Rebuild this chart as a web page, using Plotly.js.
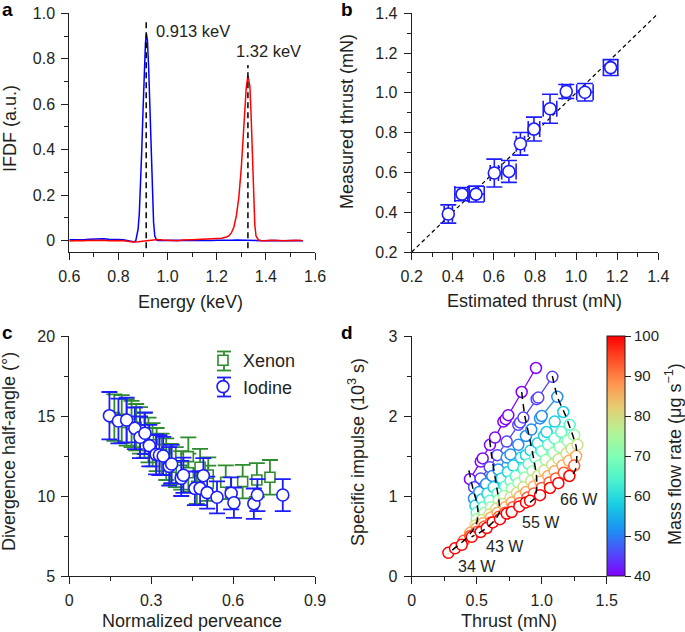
<!DOCTYPE html>
<html>
<head>
<meta charset="utf-8">
<script src="https://cdn.plot.ly/plotly-3.0.1.min.js"></script>
<style>html,body{margin:0;padding:0;background:#fff;}#chart{width:685px;height:632px;}</style>
</head>
<body>
<div id="chart"></div>
<script>
// ---------- Panel a: IFDF spectra ----------
const blueEnergy = [0.60,0.62,0.64,0.66,0.68,0.70,0.72,0.74,0.76,0.78,0.80,0.82,0.84,0.86,
  0.87,0.875,0.88,0.885,0.89,0.895,0.90,0.905,0.91,0.914,0.918,0.923,0.928,0.933,0.938,0.943,0.948,0.955,
  0.96,0.98,1.00,1.02,1.04,1.06,1.08,1.10,1.12,1.14,1.16,1.18,1.20,1.22,1.24,1.26,1.28,1.30,1.32,1.34,1.36,1.38,1.40,1.42,1.44,1.46,1.48,1.50,1.52,1.54,1.55];
const blueIFDF = [0.004,0.003,0.005,0.004,0.006,0.007,0.005,0.008,0.006,0.007,0.005,0.004,0.001,-0.005,
  -0.003,0.02,0.05,0.12,0.24,0.40,0.57,0.74,0.87,0.91,0.88,0.76,0.58,0.40,0.22,0.08,0.02,0.003,
  0.001,0.002,0.000,0.001,0.002,0.001,0.000,0.001,0.002,0.001,0.000,0.001,0.002,0.001,0.002,0.002,0.003,0.003,0.004,0.002,0.001,0.000,0.001,0.002,0.001,0.000,0.001,0.002,0.001,0.000,-0.001];
const redEnergy = [0.60,0.62,0.64,0.66,0.68,0.70,0.72,0.74,0.76,0.78,0.80,0.82,0.84,0.86,0.88,0.90,0.92,0.94,0.96,0.98,1.00,1.02,1.04,1.06,1.08,1.10,1.12,1.14,1.16,1.18,
  1.20,1.22,1.24,1.25,1.26,1.27,1.28,1.29,1.30,1.31,1.32,1.327,1.335,1.34,1.345,1.35,1.355,1.36,1.37,
  1.38,1.40,1.42,1.44,1.46,1.48,1.50,1.52,1.54,1.55];
const redIFDF = [-0.002,0.000,0.001,-0.001,0.002,0.001,0.003,0.002,0.000,0.002,0.001,-0.001,-0.004,-0.006,-0.005,-0.002,0.002,0.004,0.005,0.003,0.001,0.002,0.000,0.003,0.002,0.004,0.005,0.006,0.007,0.008,
  0.009,0.011,0.016,0.022,0.035,0.06,0.11,0.19,0.32,0.50,0.67,0.725,0.68,0.55,0.38,0.19,0.07,0.02,0.003,
  0.001,-0.001,0.002,0.000,0.001,-0.001,0.001,0.000,0.002,-0.002];
const peakEnergy = [0.913, 1.327];
const peakLineTop = [0.968, 0.773];
const peakLineBottom = -0.034;
const peakLabels = ['0.913 keV', '1.32 keV'];

// ---------- Panel b: thrust comparison ----------
const estimatedThrust = [0.378,0.445,0.513,0.602,0.673,0.729,0.795,0.873,0.952,1.043,1.168];
const measuredThrust  = [0.391,0.491,0.491,0.597,0.605,0.744,0.818,0.920,1.007,1.003,1.127];
const estimatedErr    = [0.02,0.035,0.04,0.02,0.035,0.02,0.028,0.033,0.02,0.04,0.035];
const measuredErr     = [0.046,0.033,0.04,0.07,0.055,0.057,0.06,0.073,0.035,0.044,0.04];
const identityLine = [0.2, 1.4];

// ---------- Panel c: divergence ----------
const xenonPerveance = [0.165,0.192,0.21,0.228,0.245,0.259,0.275,0.29,0.305,0.32,0.338,0.355,0.372,0.39,0.41,0.436,0.436,0.467,0.479,0.509,0.509,0.573,0.635,0.687,0.735];
const xenonAngle = [14.9,14.8,14.6,14.5,14.3,14.1,13.8,13.5,13.2,12.9,12.6,12.3,12.0,11.8,11.6,12.46,11.45,10.6,11.8,11.31,10.8,10.86,10.9,11.0,11.17];
const xenonErr = [1.45,1.5,1.45,1.45,1.45,1.45,1.4,1.4,1.35,1.35,1.3,1.3,1.25,1.25,1.2,1.2,1.2,1.1,1.15,1.1,1.1,1.05,1.05,1.05,1.08];
const iodinePerveance = [0.147,0.18,0.21,0.24,0.259,0.277,0.293,0.318,0.33,0.344,0.366,0.375,0.41,0.418,0.46,0.479,0.491,0.505,0.541,0.593,0.603,0.676,0.689,0.782];
const iodineAngle = [15.02,14.69,14.75,14.23,13.67,13.92,13.15,12.6,12.56,12.5,11.85,12.0,11.1,11.3,10.48,10.48,11.27,10.21,9.92,10.17,9.58,9.52,10.06,10.06];
const iodineErr = [1.48,1.4,1.4,1.3,1.3,1.3,1.3,1.25,1.25,1.2,1.2,1.2,1.1,1.1,1.05,1.05,1.1,1.0,1.0,1.0,0.95,0.95,1.0,1.0];

// ---------- Panel d: specific impulse vs thrust ----------
const massFlows = [40,45,51,58,65,72,79,86,93,100];
const thrust_40 = [0.448,0.531,0.546,0.602,0.641,0.705,0.723,0.743,0.846,0.956];
const isp_40    = [1.21,1.43,1.47,1.64,1.73,1.93,1.96,2.01,2.30,2.60];
const thrust_45 = [0.48,0.53,0.60,0.659,0.731,0.82,0.833,0.859,0.961,0.974,1.082];
const isp_45    = [1.11,1.22,1.36,1.51,1.68,1.89,1.92,1.98,2.21,2.23,2.49];
const thrust_51 = [0.479,0.52,0.572,0.62,0.666,0.731,0.76,0.82,0.879,0.92,0.987,1.0,1.12];
const isp_51    = [0.97,1.05,1.15,1.25,1.33,1.48,1.52,1.64,1.75,1.83,1.97,2.0,2.24];
const thrust_58 = [0.49,0.54,0.582,0.63,0.692,0.74,0.782,0.84,0.879,0.915,0.97,1.018,1.038,1.10,1.166];
const isp_58    = [0.88,0.96,1.03,1.11,1.22,1.30,1.38,1.48,1.51,1.57,1.66,1.75,1.80,1.93,2.05];
const thrust_65 = [0.50,0.55,0.60,0.66,0.72,0.76,0.80,0.86,0.90,0.95,1.00,1.05,1.10,1.15,1.215];
const isp_65    = [0.79,0.86,0.94,1.03,1.12,1.19,1.25,1.34,1.40,1.48,1.56,1.64,1.72,1.80,1.89];
const thrust_72 = [0.50,0.56,0.61,0.67,0.71,0.77,0.82,0.87,0.93,0.98,1.03,1.09,1.14,1.20,1.25];
const isp_72    = [0.71,0.79,0.86,0.95,1.00,1.09,1.16,1.23,1.31,1.38,1.45,1.54,1.61,1.69,1.76];
const thrust_79 = [0.49,0.54,0.60,0.65,0.70,0.76,0.81,0.86,0.92,0.97,1.02,1.08,1.13,1.19,1.23,1.275];
const isp_79    = [0.63,0.70,0.77,0.84,0.90,0.98,1.04,1.11,1.19,1.25,1.32,1.39,1.46,1.53,1.59,1.64];
const thrust_86 = [0.45,0.50,0.55,0.61,0.66,0.72,0.77,0.83,0.88,0.94,0.99,1.05,1.10,1.16,1.21,1.265];
const isp_86    = [0.54,0.60,0.66,0.73,0.79,0.86,0.92,0.99,1.05,1.12,1.18,1.25,1.31,1.38,1.44,1.50];
const thrust_93 = [0.40,0.45,0.50,0.56,0.61,0.67,0.72,0.78,0.83,0.89,0.94,1.00,1.06,1.11,1.17,1.25];
const isp_93    = [0.44,0.50,0.55,0.62,0.67,0.74,0.79,0.86,0.91,0.98,1.03,1.10,1.17,1.22,1.29,1.38];
const thrust_100 = [0.282,0.333,0.385,0.462,0.53,0.577,0.623,0.679,0.731,0.769,0.828,0.879,0.910,0.987,1.064,1.128,1.213];
const isp_100    = [0.29,0.346,0.39,0.49,0.55,0.60,0.67,0.71,0.78,0.80,0.87,0.92,0.94,1.01,1.10,1.16,1.25];
const power34_thrust = [0.44,0.47,0.50,0.51,0.505,0.49,0.45,0.40,0.34,0.28];
const power34_isp    = [1.32,1.10,0.92,0.80,0.70,0.62,0.53,0.44,0.36,0.28];
const power43_thrust = [0.60,0.615,0.635,0.655,0.67,0.675,0.64,0.577,0.52,0.46];
const power43_isp    = [1.70,1.50,1.30,1.10,0.95,0.80,0.70,0.60,0.54,0.49];
const power55_thrust = [0.846,0.87,0.91,0.94,0.96,0.962,0.945,0.91];
const power55_isp    = [2.30,2.00,1.70,1.45,1.25,1.10,0.97,0.92];
const power66_thrust = [1.082,1.12,1.18,1.23,1.265,1.27,1.26,1.22];
const power66_isp    = [2.50,2.24,2.02,1.80,1.62,1.50,1.33,1.22];
const powerLabels = ['34 W','43 W','55 W','66 W'];
const powerLabelThrust = [0.50,0.714,0.993,1.288];
const powerLabelIsp = [0.125,0.366,0.671,0.95];

const thrustSeries = [thrust_40,thrust_45,thrust_51,thrust_58,thrust_65,thrust_72,thrust_79,thrust_86,thrust_93,thrust_100];
const ispSeries = [isp_40,isp_45,isp_51,isp_58,isp_65,isp_72,isp_79,isp_86,isp_93,isp_100];

// ---------- styling helpers ----------
const FONT = 'Liberation Sans, Arial, Helvetica, sans-serif';
const INK = '#231f20';
const BLUE = '#1c1cff';
const GREEN = '#2e8b2e';
const FLOW_MIN = 40, FLOW_MAX = 100;
function rainbow(v) {
  const t = Math.max(0, Math.min(1, (v - FLOW_MIN) / (FLOW_MAX - FLOW_MIN)));
  const r = Math.min(1, Math.abs(2 * t - 0.5));
  const g = Math.sin(Math.PI * t);
  const b = Math.cos(Math.PI * t / 2);
  return 'rgb(' + Math.round(r * 255) + ',' + Math.round(g * 255) + ',' + Math.round(Math.max(0, b) * 255) + ')';
}
const colorscale = [];
for (let k = 0; k <= 10; k++) colorscale.push([k / 10, rainbow(FLOW_MIN + k * (FLOW_MAX - FLOW_MIN) / 10)]);

const W = 685, H = 632;
const px = x => x / W;
const py = y => 1 - y / H;

const traces = [];
// Panel a
traces.push({x: blueEnergy, y: blueIFDF, mode: 'lines', line: {color: '#0000ff', width: 1.5}, xaxis: 'x', yaxis: 'y', showlegend: false, hoverinfo: 'skip'});
traces.push({x: redEnergy, y: redIFDF, mode: 'lines', line: {color: '#ff0000', width: 1.5}, xaxis: 'x', yaxis: 'y', showlegend: false, hoverinfo: 'skip'});
peakEnergy.forEach((e, i) => {
  traces.push({x: [e, e], y: [peakLineBottom, peakLineTop[i]], mode: 'lines', line: {color: 'black', width: 1.5, dash: '6px,4px'}, xaxis: 'x', yaxis: 'y', showlegend: false, hoverinfo: 'skip'});
});
// Panel b
traces.push({x: identityLine, y: identityLine, mode: 'lines', line: {color: 'black', width: 1.2, dash: '4px,3px'}, xaxis: 'x2', yaxis: 'y2', showlegend: false, hoverinfo: 'skip'});
traces.push({x: estimatedThrust, y: measuredThrust, mode: 'markers', xaxis: 'x2', yaxis: 'y2', showlegend: false,
  marker: {symbol: 'circle', size: 12, color: 'white', line: {color: BLUE, width: 1.6}},
  error_x: {type: 'data', array: estimatedErr, visible: true, color: BLUE, thickness: 1.6, width: 8},
  error_y: {type: 'data', array: measuredErr, visible: true, color: BLUE, thickness: 1.6, width: 8}});
// Panel c
traces.push({x: xenonPerveance, y: xenonAngle, name: 'Xenon', mode: 'markers', xaxis: 'x3', yaxis: 'y3',
  marker: {symbol: 'square', size: 10, color: 'white', line: {color: GREEN, width: 1.6}},
  error_y: {type: 'data', array: xenonErr, visible: true, color: GREEN, thickness: 1.8, width: 8}});
traces.push({x: iodinePerveance, y: iodineAngle, name: 'Iodine', mode: 'markers', xaxis: 'x3', yaxis: 'y3',
  marker: {symbol: 'circle', size: 12, color: 'white', line: {color: BLUE, width: 1.6}},
  error_y: {type: 'data', array: iodineErr, visible: true, color: BLUE, thickness: 1.8, width: 8}});
// Panel d
massFlows.forEach((f, i) => {
  const c = rainbow(f);
  traces.push({x: thrustSeries[i], y: ispSeries[i], mode: 'lines+markers', xaxis: 'x4', yaxis: 'y4', showlegend: false, hoverinfo: 'skip',
    line: {color: c, width: 1.3}, marker: {symbol: 'circle', size: 11, color: 'white', line: {color: c, width: 1.5}}});
});
[[power34_thrust, power34_isp],[power43_thrust, power43_isp],[power55_thrust, power55_isp],[power66_thrust, power66_isp]].forEach(p => {
  traces.push({x: p[0], y: p[1], mode: 'lines', xaxis: 'x4', yaxis: 'y4', showlegend: false, hoverinfo: 'skip',
    line: {color: 'black', width: 1.5, dash: '7px,5px', shape: 'spline', smoothing: 0.6}});
});
traces.push({x: [null], y: [null], mode: 'markers', xaxis: 'x4', yaxis: 'y4', showlegend: false, hoverinfo: 'skip',
  marker: {color: [FLOW_MIN], cmin: FLOW_MIN, cmax: FLOW_MAX, colorscale: colorscale, showscale: true,
    colorbar: {x: px(606.7), xanchor: 'left', xpad: 0, y: 1 - 576 / H, yanchor: 'bottom', ypad: 0,
      len: 240 / H, lenmode: 'fraction', thickness: 18, thicknessmode: 'pixels',
      outlinewidth: 1, outlinecolor: INK, borderwidth: 0,
      ticks: 'outside', ticklen: 6, tickcolor: INK, tickvals: [40,50,60,70,80,90,100],
      tickfont: {family: FONT, size: 15, color: INK}}}});

function axisBase(extra) {
  return Object.assign({showline: true, linecolor: INK, linewidth: 1, ticks: 'outside', ticklen: 7, tickwidth: 1, tickcolor: INK,
    showgrid: false, zeroline: false, fixedrange: true, tickfont: {family: FONT, size: 16, color: INK}, ticklabelstandoff: 3}, extra);
}
const xdomA = [px(69.3), px(315)], xdomB = [px(411.7), px(658.3)], xdomD = [px(411.7), px(606.7)];
const ydomTop = [py(252), py(13.3)], ydomBot = [py(576), py(336)];

const annotations = [];
function ann(text, x, y, opts) {
  annotations.push(Object.assign({text: text, x: px(x), y: py(y), xref: 'paper', yref: 'paper', showarrow: false,
    font: {family: FONT, size: 18, color: INK}, xanchor: 'center', yanchor: 'middle'}, opts || {}));
}
// panel letters
ann('<b>a</b>', 0, 10, {xanchor: 'left', font: {family: FONT, size: 19, color: 'black'}});
ann('<b>b</b>', 339, 10, {xanchor: 'left', font: {family: FONT, size: 19, color: 'black'}});
ann('<b>c</b>', 0, 332, {xanchor: 'left', font: {family: FONT, size: 19, color: 'black'}});
ann('<b>d</b>', 339, 332, {xanchor: 'left', font: {family: FONT, size: 19, color: 'black'}});
// axis titles
ann('IFDF (a.u.)', 10, 129, {textangle: -90});
ann('Energy (keV)', 190.8, 302);
ann('Measured thrust (mN)', 347, 122, {textangle: -90});
ann('Estimated thrust (mN)', 534, 301);
ann('Divergence half-angle (°)', 9, 452, {textangle: -90});
ann('Normalized perveance', 191.6, 621);
ann('Specific impulse (10<sup>3</sup> s)', 356, 452, {textangle: -90});
ann('Thrust (mN)', 509, 621);
ann('Mass flow rate (μg s<sup>−1</sup>)', 673, 454, {textangle: -90});
// peak labels (data coords, panel a)
annotations.push({text: peakLabels[0], x: 0.944, y: 0.922, xref: 'x', yref: 'y', showarrow: false, xanchor: 'left', yanchor: 'middle', font: {family: FONT, size: 16.5, color: INK}});
annotations.push({text: peakLabels[1], x: 1.409, y: 0.834, xref: 'x', yref: 'y', showarrow: false, xanchor: 'center', yanchor: 'middle', font: {family: FONT, size: 16.5, color: INK}});
// power labels (panel d)
powerLabels.forEach((t, i) => {
  annotations.push({text: t, x: powerLabelThrust[i], y: powerLabelIsp[i], xref: 'x4', yref: 'y4', showarrow: false, xanchor: 'center', yanchor: 'middle', font: {family: FONT, size: 16, color: INK}});
});

// legend icon error bars (decoration beside the legend symbols)
const legendIconX = 224, legendIconY = [361, 387], legendIconColor = [GREEN, BLUE];
const shapes = [];
legendIconY.forEach((yc, i) => {
  const c = legendIconColor[i];
  shapes.push({type: 'line', xref: 'paper', yref: 'paper', x0: px(legendIconX), x1: px(legendIconX), y0: py(yc - 9.5), y1: py(yc + 9.5), line: {color: c, width: 1.8}});
  shapes.push({type: 'line', xref: 'paper', yref: 'paper', x0: px(legendIconX - 7), x1: px(legendIconX + 7), y0: py(yc - 9.5), y1: py(yc - 9.5), line: {color: c, width: 1.8}});
  shapes.push({type: 'line', xref: 'paper', yref: 'paper', x0: px(legendIconX - 7), x1: px(legendIconX + 7), y0: py(yc + 9.5), y1: py(yc + 9.5), line: {color: c, width: 1.8}});
});

const layout = {
  width: W, height: H, margin: {l: 0, r: 0, t: 0, b: 0}, paper_bgcolor: 'white', plot_bgcolor: 'rgba(0,0,0,0)',
  font: {family: FONT, color: INK},
  showlegend: true,
  legend: {x: px(203), y: py(342), xanchor: 'left', yanchor: 'top', bgcolor: 'rgba(0,0,0,0)', font: {family: FONT, size: 18, color: INK}, tracegroupgap: 0, itemwidth: 30},
  xaxis: axisBase({domain: xdomA, anchor: 'y', range: [0.6, 1.6], tickvals: [0.6,0.8,1.0,1.2,1.4,1.6], ticktext: ['0.6','0.8','1.0','1.2','1.4','1.6'], minor: {ticks: 'outside', dtick: 0.1, tick0: 0.6, ticklen: 4, tickcolor: INK}}),
  yaxis: axisBase({domain: ydomTop, anchor: 'x', range: [-0.05, 1.0], tickvals: [0,0.2,0.4,0.6,0.8,1.0], ticktext: ['0','0.2','0.4','0.6','0.8','1.0'], minor: {ticks: 'outside', dtick: 0.1, tick0: 0, ticklen: 4, tickcolor: INK}}),
  xaxis2: axisBase({domain: xdomB, anchor: 'y2', range: [0.2, 1.4], dtick: 0.2, tick0: 0.2, tickformat: '.1f', minor: {ticks: 'outside', dtick: 0.1, tick0: 0.2, ticklen: 4, tickcolor: INK}}),
  yaxis2: axisBase({domain: ydomTop, anchor: 'x2', range: [0.2, 1.4], dtick: 0.2, tick0: 0.2, tickformat: '.1f', minor: {ticks: 'outside', dtick: 0.1, tick0: 0.2, ticklen: 4, tickcolor: INK}}),
  xaxis3: axisBase({domain: xdomA, anchor: 'y3', range: [0, 0.9], tickvals: [0,0.3,0.6,0.9], ticktext: ['0','0.3','0.6','0.9'], minor: {ticks: 'outside', dtick: 0.15, tick0: 0, ticklen: 4, tickcolor: INK}}),
  yaxis3: axisBase({domain: ydomBot, anchor: 'x3', range: [5, 20], tickvals: [5,10,15,20], minor: {ticks: 'outside', dtick: 2.5, tick0: 5, ticklen: 4, tickcolor: INK}}),
  xaxis4: axisBase({domain: xdomD, anchor: 'y4', range: [0, 1.5], tickvals: [0,0.5,1.0,1.5], ticktext: ['0','0.5','1.0','1.5'], minor: {ticks: 'outside', dtick: 0.25, tick0: 0, ticklen: 4, tickcolor: INK}}),
  yaxis4: axisBase({domain: ydomBot, anchor: 'x4', range: [0, 3], tickvals: [0,1,2,3], minor: {ticks: 'outside', dtick: 0.5, tick0: 0, ticklen: 4, tickcolor: INK}}),
  annotations: annotations,
  shapes: shapes
};

Plotly.newPlot('chart', traces, layout, {staticPlot: true, displayModeBar: false});
</script>
</body>
</html>
